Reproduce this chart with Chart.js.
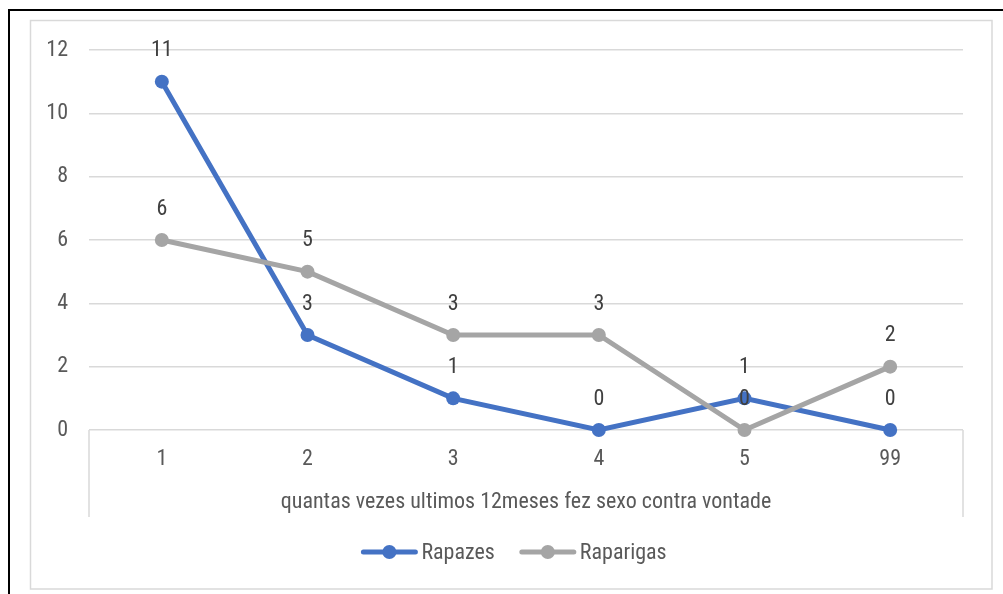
<!DOCTYPE html>
<html>
<head>
<meta charset="utf-8">
<script src="https://cdn.jsdelivr.net/npm/chart.js@4/dist/chart.umd.min.js"></script>
<style>
  html, body { margin: 0; padding: 0; background: #ffffff; }
  #wrap { width: 1003px; height: 594px; }
</style>
</head>
<body>
<div id="wrap"><canvas id="c" width="1003" height="594"></canvas></div>
<script>
const categories = ['1', '2', '3', '4', '5', '99'];
const rapazes = [11, 3, 1, 0, 1, 0];
const raparigas = [6, 5, 3, 3, 0, 2];
const yTicks = [0, 2, 4, 6, 8, 10, 12];
const seriesNames = ['Rapazes', 'Raparigas'];
const axisTitle = 'quantas vezes ultimos 12meses fez sexo contra vontade';

const FONT = '"Liberation Sans Narrow", "Arial Narrow", "Roboto Condensed", "Liberation Sans", Arial, sans-serif';
const BLUE = '#4472C4';
const GRAY = '#A5A5A5';

// page frame: white fill, dark outer edge, light inner border
const framePlugin = {
  id: 'frame',
  beforeDraw(chart) {
    const ctx = chart.ctx;
    ctx.save();
    ctx.fillStyle = '#ffffff';
    ctx.fillRect(0, 0, chart.width, chart.height);
    ctx.strokeStyle = '#000000';
    ctx.lineWidth = 2;
    ctx.beginPath();
    ctx.moveTo(9, chart.height);
    ctx.lineTo(9, 10);
    ctx.lineTo(chart.width, 10);
    ctx.stroke();
    ctx.strokeStyle = '#D9D9D9';
    ctx.lineWidth = 1.5;
    ctx.strokeRect(30.5, 20.5, 961.5, 568.5);
    ctx.restore();
  }
};

// vertical edges around the category axis block
const axisBoxPlugin = {
  id: 'axisBox',
  afterDraw(chart) {
    const ctx = chart.ctx;
    const a = chart.chartArea;
    const xs = chart.scales.x;
    ctx.save();
    ctx.strokeStyle = '#D9D9D9';
    ctx.lineWidth = 1.5;
    ctx.beginPath();
    ctx.moveTo(a.left, a.bottom);
    ctx.lineTo(a.left, xs.bottom);
    ctx.moveTo(a.right, a.bottom);
    ctx.lineTo(a.right, xs.bottom);
    ctx.stroke();
    ctx.restore();
  }
};

// value labels above each point
const valueLabelPlugin = {
  id: 'valueLabels',
  afterDatasetsDraw(chart) {
    const ctx = chart.ctx;
    ctx.save();
    ctx.font = '22px ' + FONT;
    ctx.fillStyle = '#404040';
    ctx.textAlign = 'center';
    ctx.textBaseline = 'middle';
    chart.data.datasets.forEach((ds, i) => {
      const meta = chart.getDatasetMeta(i);
      meta.data.forEach((pt, j) => {
        ctx.fillText(String(ds.data[j]), pt.x, pt.y - 31);
      });
    });
    ctx.restore();
  }
};

// legend: line with marker, then series name
const legendPlugin = {
  id: 'lineLegend',
  afterDraw(chart) {
    const ctx = chart.ctx;
    ctx.save();
    ctx.font = '22px ' + FONT;
    const items = chart.data.datasets.map(ds => ({
      label: ds.label, color: ds.borderColor, w: 56 + 4 + ctx.measureText(ds.label).width
    }));
    const gap = 25;
    const total = items.reduce((s, it) => s + it.w, 0) + gap * (items.length - 1);
    let x = 514 - total / 2;
    const y = 552;
    items.forEach(it => {
      ctx.strokeStyle = it.color;
      ctx.lineWidth = 5;
      ctx.lineCap = 'round';
      ctx.beginPath();
      ctx.moveTo(x + 2, y);
      ctx.lineTo(x + 54, y);
      ctx.stroke();
      ctx.fillStyle = it.color;
      ctx.beginPath();
      ctx.arc(x + 28, y, 7, 0, Math.PI * 2);
      ctx.fill();
      ctx.fillStyle = '#595959';
      ctx.textAlign = 'left';
      ctx.textBaseline = 'middle';
      ctx.fillText(it.label, x + 60, y + 1);
      x += it.w + gap;
    });
    ctx.restore();
  }
};

new Chart(document.getElementById('c'), {
  type: 'line',
  data: {
    labels: categories,
    datasets: [
      {
        label: seriesNames[0], data: rapazes, order: 1, clip: false,
        borderColor: BLUE, backgroundColor: BLUE, borderWidth: 5,
        pointRadius: 7, pointHoverRadius: 7, pointBackgroundColor: BLUE, pointBorderWidth: 0,
        tension: 0, fill: false
      },
      {
        label: seriesNames[1], data: raparigas, order: 0, clip: false,
        borderColor: GRAY, backgroundColor: GRAY, borderWidth: 5,
        pointRadius: 7, pointHoverRadius: 7, pointBackgroundColor: GRAY, pointBorderWidth: 0,
        tension: 0, fill: false
      }
    ]
  },
  options: {
    responsive: false,
    animation: false,
    events: [],
    layout: { padding: { left: 0, top: 50, right: 40, bottom: 77 } },
    plugins: {
      legend: { display: false },
      tooltip: { enabled: false },
      title: { display: false }
    },
    scales: {
      x: {
        offset: true,
        grid: { display: false, drawTicks: false },
        border: { display: false },
        ticks: { color: '#595959', font: { family: FONT, size: 22 }, padding: 16, maxRotation: 0 },
        title: {
          display: true, text: axisTitle, color: '#595959',
          font: { family: FONT, size: 22 }, padding: { top: 0, bottom: 1 }
        },
        afterFit(scale) { scale.height = 87; }
      },
      y: {
        min: 0, max: 12,
        afterBuildTicks(scale) { scale.ticks = yTicks.map(v => ({ value: v })); },
        grid: { color: '#D9D9D9', lineWidth: 1.5, drawTicks: false },
        border: { display: false },
        ticks: { color: '#595959', font: { family: FONT, size: 22 }, padding: 21 },
        afterFit(scale) { scale.width = 89; }
      }
    }
  },
  plugins: [framePlugin, axisBoxPlugin, valueLabelPlugin, legendPlugin]
});
</script>
</body>
</html>
